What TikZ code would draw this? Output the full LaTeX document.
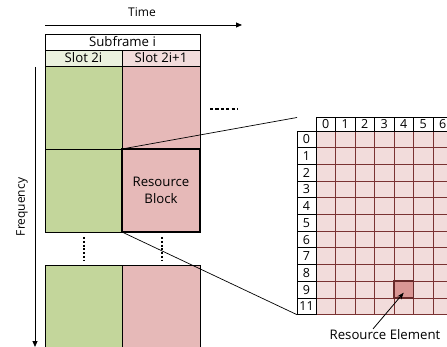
\documentclass[tikz,border=0pt]{standalone}
\usepackage{fontspec}
\setmainfont{Open Sans}
\usetikzlibrary{arrows.meta}
\definecolor{gDark}{HTML}{C3D69B}
\definecolor{gLight}{HTML}{EBF1DE}
\definecolor{pDark}{HTML}{E6B9B8}
\definecolor{pLight}{HTML}{F2DCDB}
\definecolor{gridLine}{HTML}{7A3232}
\definecolor{reFill}{HTML}{D99694}
\begin{document}
\begin{tikzpicture}[x=1pt,y=-1pt,
  every node/.style={inner sep=0pt, outer sep=0pt, font=\fontsize{13.2}{15}\selectfont},
  box/.style={draw, line width=0.8pt, anchor=north west},
  hdr/.style={draw, line width=0.8pt, fill=white, anchor=north west, minimum width=19.5pt, minimum height=13.5pt, font=\fontsize{12.5}{13}\selectfont},
  lbl/.style={draw, line width=0.8pt, fill=white, anchor=north west, minimum width=19pt, minimum height=16.7pt, font=\fontsize{12.5}{13}\selectfont},
  gcell/.style={draw=gridLine, line width=0.8pt, fill=pLight, anchor=north west, minimum width=19.5pt, minimum height=16.7pt},
  arr/.style={line width=0.8pt, -{Triangle[length=6pt,width=5pt]}},
  dotline/.style={line width=1.5pt, dash pattern=on 2pt off 1.8pt}
]
\useasboundingbox (0,0) rectangle (447,347);
\clip (0,0) rectangle (447,347);
% time axis
\node[font=\fontsize{12}{14}\selectfont] (time) at (142,12) {Time};
\coordinate (ts) at (45,25);
\coordinate (te) at (242,25);
\draw[arr] (ts) -- (te);
% frequency axis
\node[rotate=90, font=\fontsize{12}{14}\selectfont] (freq) at (22,207) {Frequency};
\coordinate (fs) at (35,67);
\coordinate (fe) at (35,347);
\draw[arr] (fs) -- (fe);
% subframe header
\node[box, fill=white, minimum width=155pt, minimum height=16pt] (sub) at (45,34) {Subframe i};
\node[box, fill=gLight, minimum width=77pt, minimum height=16pt] (s1) at (45,50) {Slot 2i};
\node[box, fill=pLight, minimum width=78pt, minimum height=16pt] (s2) at (122,50) {Slot 2i+1};
% blocks
\node[box, fill=gDark, minimum width=77pt, minimum height=83pt] (g1) at (45,66) {};
\node[box, fill=pDark, minimum width=78pt, minimum height=83pt] (p1) at (122,66) {};
\node[box, fill=gDark, minimum width=77pt, minimum height=83pt] (g2) at (45,149) {};
\node[box, fill=gDark, minimum width=77pt, minimum height=90pt] (g3) at (45,265) {};
\node[box, fill=pDark, minimum width=78pt, minimum height=90pt] (p3) at (122,265) {};
\node[box, fill=pDark, line width=1.6pt, minimum width=78pt, minimum height=83pt, align=center, font=\fontsize{13.2}{17}\selectfont] (rb) at (122,149) {Resource\\Block};
% continuation dots
\coordinate (d1a) at (84,237); \coordinate (d1b) at (84,261);
\coordinate (d2a) at (162,237); \coordinate (d2b) at (162,261);
\draw[dotline] (d1a) -- (d1b);
\draw[dotline] (d2a) -- (d2b);
\coordinate (h1a) at (210,109); \coordinate (h1b) at (238,109);
\draw[line width=1.2pt, dash pattern=on 3.2pt off 2.2pt] (h1a) -- (h1b);
% grid
\foreach \r in {0,...,10} {
  \foreach \c in {0,...,7} {
    \node[gcell] (g\r-\c) at ({316+19.5*\c},{131+16.7*\r}) {};
  }
}
\foreach \c in {0,...,6} {
  \node[hdr] (h\c) at ({316+19.5*\c},117.5) {\c};
}
\node[hdr, minimum width=15pt] (h7) at ({316+19.5*7},117.5) {};
\foreach \l [count=\i from 0] in {0,1,2,3,4,5,6,7,8,9,11} {
  \node[lbl] (l\i) at (297,{131+16.7*\i}) {\l};
}
\node[gcell, fill=reFill, draw=gridLine!85!black, line width=1.6pt] (re) at ({316+19.5*4},{131+16.7*9}) {};
% zoom lines
\coordinate (gtl) at (297,117.5);
\draw[line width=0.7pt] (rb.north west) -- (gtl);
\draw[line width=0.7pt] (rb.south west) -- (l10.south west);
% resource element
\node (retext) at (385,335) {Resource Element};
\draw[line width=0.8pt, -{Stealth[length=7pt,width=5pt]}] ([xshift=-12pt,yshift=1pt]retext.north) -- ([yshift=-3pt]re.center);
\end{tikzpicture}
\end{document}
